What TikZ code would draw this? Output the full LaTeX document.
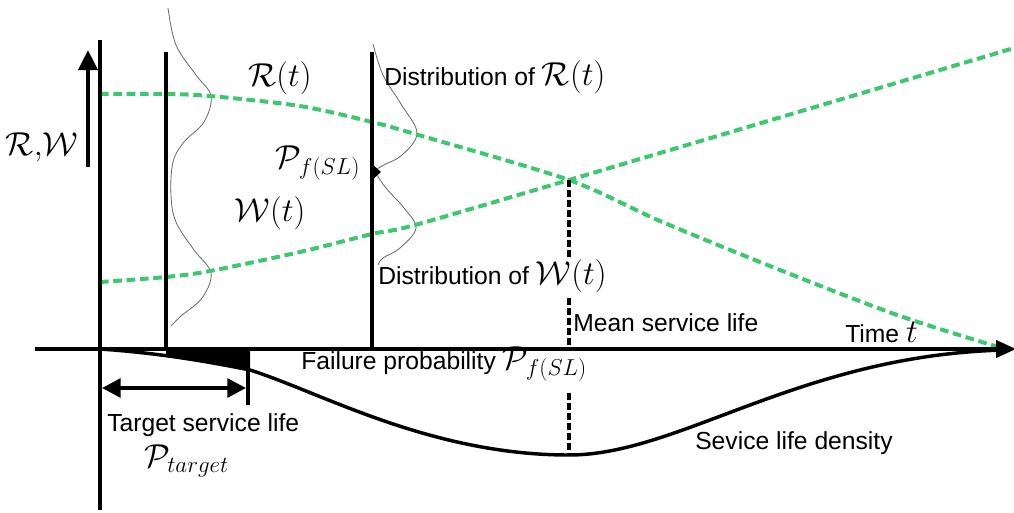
\documentclass[tikz,border=0pt]{standalone}
\usepackage{fontspec}
\setmainfont{Liberation Sans}
\usetikzlibrary{arrows.meta}
\definecolor{curvegreen}{RGB}{60,200,110}
\newcommand{\mfs}{\fontsize{24}{27}\selectfont}
\begin{document}
\begin{tikzpicture}[x=0.75pt,y=-0.75pt,
  txt/.style={inner sep=0pt,font=\fontsize{18.5}{21}\selectfont},
  mth/.style={inner sep=0pt,font=\mfs},
  bar/.style={line width=3pt},
  gdash/.style={curvegreen,line width=3pt,dash pattern=on 6.5pt off 3.5pt},
  dist/.style={gray!80!black,line width=0.6pt},
  meanline/.style={line width=3pt,dash pattern=on 5pt off 2.5pt}]
\useasboundingbox (0,0) rectangle (1014,512);
% named points
\coordinate (axL) at (35,349);
\coordinate (axR) at (1016,349);
\coordinate (v0t) at (100,40);
\coordinate (v0b) at (100,510);
\coordinate (v1t) at (166,52);
\coordinate (v1b) at (166,349);
\coordinate (v2t) at (372,52);
\coordinate (v2b) at (372,349);
\coordinate (upB) at (88,167);
\coordinate (upT) at (88,50);
\coordinate (cross) at (569,180);
\coordinate (tgtT) at (248,349);
\coordinate (tgtB) at (248,405);
\coordinate (dbl0) at (102,388);
\coordinate (dbl1) at (246,388);
% distributions (thin)
\draw[dist] plot[smooth,tension=0.6] coordinates {(168,8) (176,45) (196,75) (211,96) (204,122) (184,142) (173,162) (171,195) (176,222) (194,250) (211,273) (202,298) (181,316) (171,326)};
\draw[dist] plot[smooth,tension=0.6] coordinates {(373,44) (383,75) (401,104) (417,133) (402,155) (382,166) (376,172) (386,188) (404,208) (416,228) (400,248) (383,258) (378,265)};
\fill (372,164) -- (381,172) -- (372,180) -- cycle;
% green curves
\draw[gdash] plot[smooth,tension=0.5] coordinates {(100,94) (166,94) (210,96) (300,106) (372,122) (415,134) (569,180) (660,221) (780,270) (900,316) (1005,349)};
\draw[gdash] plot[smooth,tension=0.5] coordinates {(100,282) (166,277) (210,271) (300,252) (372,234) (415,225) (569,180) (660,153) (1014,48)};
% vertical bars
\draw[bar] (v0t) -- (v0b);
\draw[bar] (v1t) -- (v1b);
\draw[bar] (v2t) -- (v2b);
% axis
\draw[line width=2.4pt,-{Triangle[length=15pt,width=13pt]}] (axL) -- (axR);
% up arrow
\draw[line width=3pt,-{Triangle[length=15pt,width=14pt]}] (upB) -- (upT);
% density curve + filled tail
\begin{scope}
\clip (166,340) rectangle (250,380);
\fill (100,349) .. controls (160,353) and (210,362) .. (250,370) -- (250,349) -- cycle;
\end{scope}
\draw[line width=2.6pt] (100,349) .. controls (160,353) and (210,362) .. (250,370)
  .. controls (320,392) and (430,455) .. (569,455)
  .. controls (680,455) and (800,355) .. (1005,350);
% target line and double arrow
\draw[line width=3pt] (tgtT) -- (tgtB);
\draw[line width=3pt,{Triangle[length=14pt,width=14pt]}-{Triangle[length=14pt,width=14pt]}] (dbl0) -- (dbl1);
% mean service life line
\draw[meanline] (cross) -- (569,258);
\draw[meanline] (569,298) -- (569,349);
\draw[meanline] (569,393) -- (569,455);
% labels
\node[mth] (lRW) at (42,147) {$\mathcal{R},\!\mathcal{W}$};
\node[mth] (lR) at (280,78) {$\mathcal{R}(t)$};
\node[mth] (lW) at (270,213) {$\mathcal{W}(t)$};
\node[mth] (lPf) at (318,163) {$\mathcal{P}_{f(SL)}$};
\node[txt,anchor=west] (lDR) at (384,77) {Distribution of \mfs$\mathcal{R}(t)$};
\node[txt,anchor=west] (lDW) at (378,276) {Distribution of \mfs$\mathcal{W}(t)$};
\node[txt,anchor=west] (lMean) at (573,323) {Mean service life};
\node[txt,anchor=west] (lTime) at (845,332) {Time \mfs$t$};
\node[txt,anchor=west] (lFail) at (301,364) {Failure probability \mfs$\mathcal{P}_{f(SL)}$};
\node[txt,anchor=west] (lTarget) at (107,425) {Target service life};
\node[mth,anchor=west] (lPt) at (144,461) {$\mathcal{P}_{target}$};
\node[txt,anchor=west] (lDens) at (695,443) {Sevice life density};
\end{tikzpicture}
\end{document}
